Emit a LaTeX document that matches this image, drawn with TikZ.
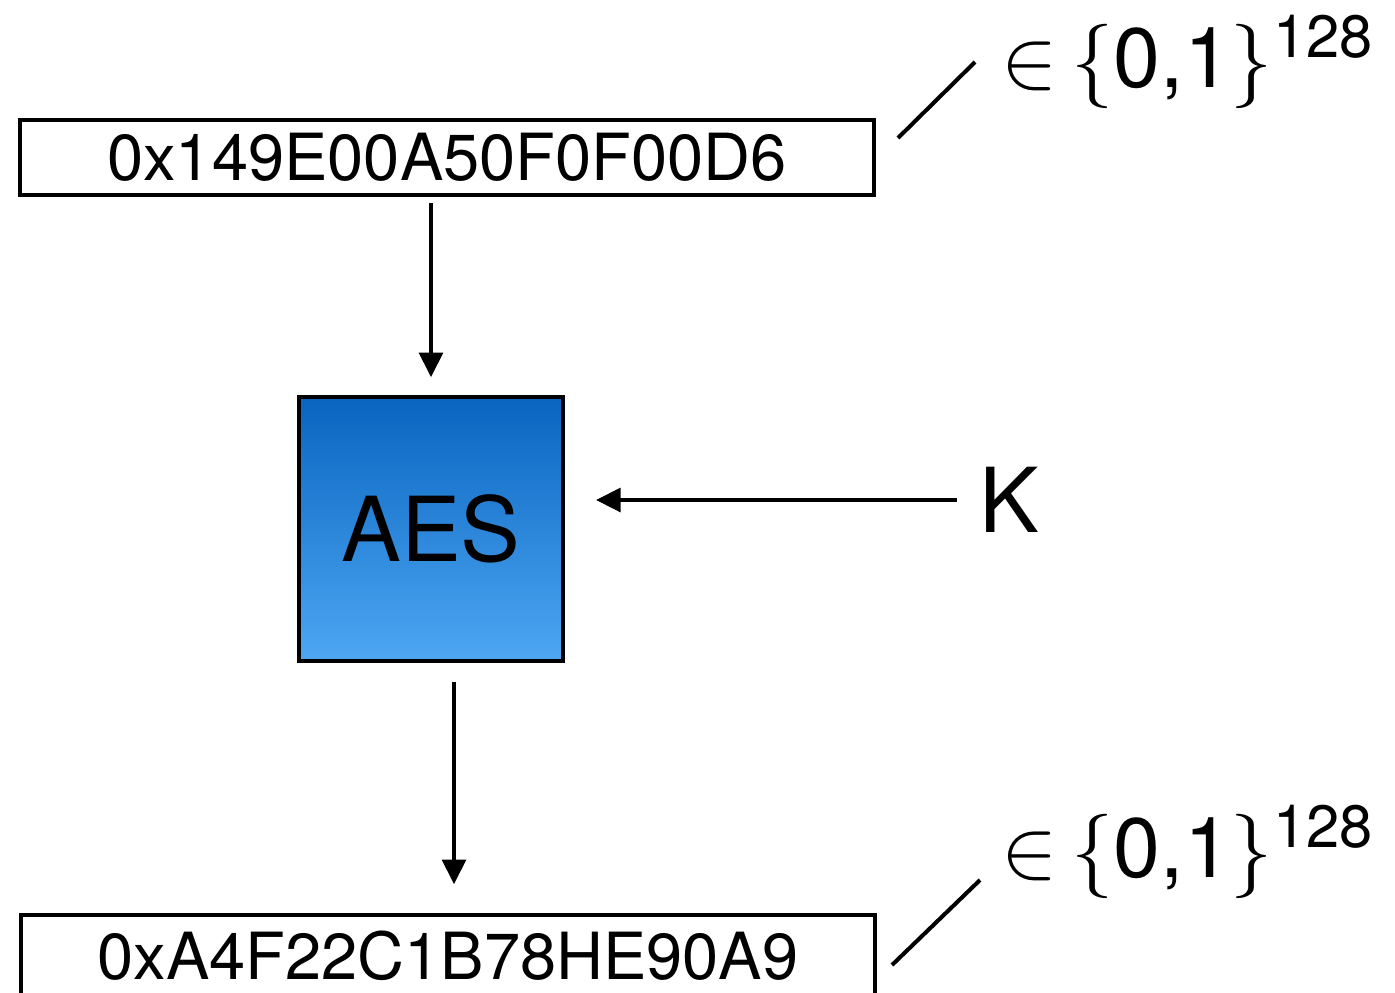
\RequirePackage{fix-cm}
\documentclass[tikz,border=0pt]{standalone}
\usepackage{fontspec}
\setmainfont{TeX Gyre Heros}
\usepackage{tikz}
\usetikzlibrary{positioning, arrows.meta}
\definecolor{aestop}{RGB}{8,101,192}
\definecolor{aesbot}{RGB}{78,166,243}
\tikzset{
  valbox/.style={rectangle, draw=black, line width=2.3pt, fill=white, minimum width=17.08cm, minimum height=1.5cm, inner sep=0pt, font=\fontsize{37}{40}\selectfont},
  cipher/.style={rectangle, draw=black, line width=2.6pt, top color=aestop, bottom color=aesbot, minimum width=5.28cm, minimum height=5.28cm, inner sep=0pt, font=\fontsize{51}{55}\selectfont},
  keylabel/.style={inner sep=0pt, font=\fontsize{51}{55}\selectfont},
  setlabel/.style={inner sep=0pt, font=\fontsize{48}{52}\selectfont},
  arrow/.style={line width=2.3pt, -{Triangle[length=14pt, width=13.5pt]}},
  tick/.style={line width=2.3pt},
}

\begin{document}
\begin{tikzpicture}[x=0.02cm, y=-0.02cm]
          \useasboundingbox (0,0) rectangle (1395,992);
          \clip (0,0) rectangle (1395,992);

          \node[valbox] (plain) at (447,157.5) {0x149E00A50F0F00D6};

          \node[cipher] (aes) at (431,529) {AES};

          \node[keylabel] (key) at (1009,500) {K};

          \node[valbox, minimum height=1.64cm] (ctext) at (448,956) {0xA4F22C1B78HE90A9};

          \node[setlabel] (plainset) at (1187,62) {$\in$\,$\{$0,1$\}$\raisebox{0.36em}{\fontsize{34}{36}\selectfont 128}};
          \node[setlabel] (ctextset) at (1187,852) {$\in$\,$\{$0,1$\}$\raisebox{0.36em}{\fontsize{34}{36}\selectfont 128}};

          % tick marks next to the boxes
          \coordinate (pt1) at (898,138);
          \coordinate (pt2) at (975,62);
          \coordinate (ct1) at (892,965);
          \coordinate (ct2) at (980,880);

          \draw[arrow, shorten <=3.4pt, shorten >=10pt] (plain.south -| aes.north) -- (aes.north);
          \draw[arrow, shorten <=12.5pt, shorten >=17.5pt] (key.west) -- (key.west -| aes.east);
          \coordinate (out) at ([xshift=0.46cm]aes.south);
          \draw[arrow, shorten <=10.8pt, shorten >=16.4pt] (out) -- (out |- ctext.north);
          \draw[tick] (pt1) -- (pt2);
          \draw[tick] (ct1) -- (ct2);
        \end{tikzpicture}
\end{document}
